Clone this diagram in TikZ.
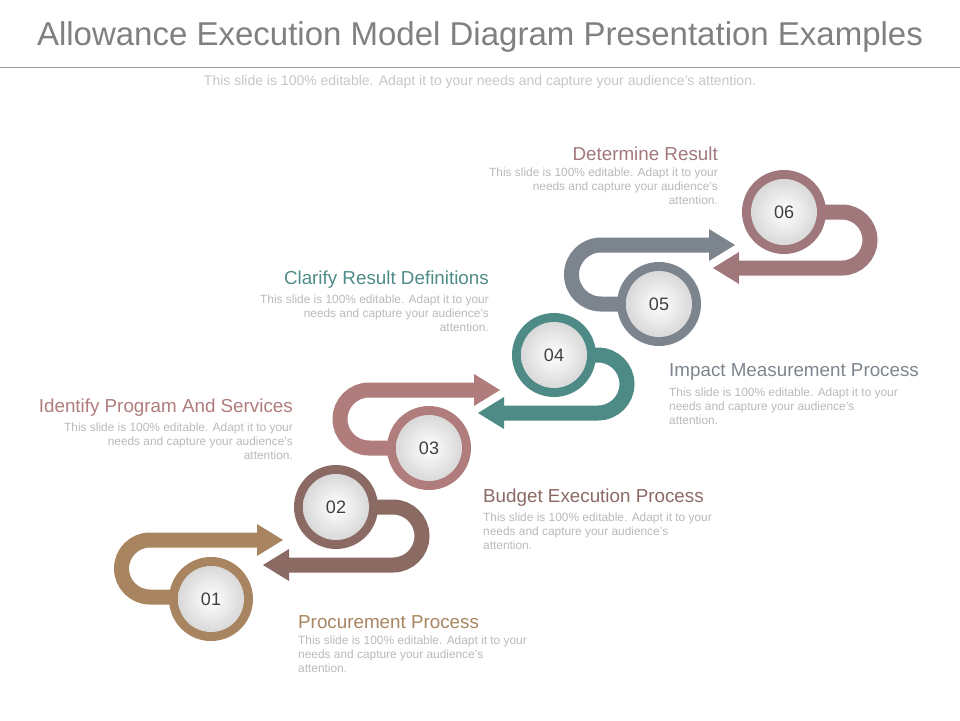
\documentclass[tikz,border=0pt]{standalone}
\usepackage{fontspec}
\setmainfont{Liberation Sans}
\begin{document}
\begin{tikzpicture}[x=1pt,y=-1pt,
  band/.style={line width=15pt},
  hd/.style={font=\fontsize{18.8}{20}\selectfont,inner sep=0pt},
  bd/.style={font=\fontsize{11.9}{14}\selectfont,text=gray!55,inner sep=0pt,align=#1},
  num/.style={font=\fontsize{18}{20}\selectfont,text=black!75}]
\definecolor{c1}{HTML}{A88560}\definecolor{c2}{HTML}{8B6A64}
\definecolor{c3}{HTML}{B07C7C}\definecolor{c4}{HTML}{4E8B87}
\definecolor{c5}{HTML}{7C858E}\definecolor{c6}{HTML}{A0787C}
\useasboundingbox (0,0) rectangle (960,720);
\node[font=\fontsize{33}{35}\selectfont,text=gray] (title) at (480,37) {Allowance Execution Model Diagram Presentation Examples};
\draw[gray!80,line width=1pt] (0,67) -- (960,67);
\node[font=\fontsize{14}{16}\selectfont,text=gray!45] (sub) at (480,82) {This slide is 100\% editable. Adapt it to your needs and capture your audience's attention.};
\draw[band,c1] (211,597) -- (150,597) arc[start angle=90,end angle=270,radius=28.5] -- (257,540);
\fill[c1] (257,524) -- (283,540) -- (257,556) -- cycle;
\draw[band,c2] (336,507) -- (393,507) arc[start angle=-90,end angle=90,radius=29] -- (289,565);
\fill[c2] (289,549) -- (263,565) -- (289,581) -- cycle;
\draw[band,c3] (429,448) -- (369,448) arc[start angle=90,end angle=270,radius=29] -- (474,390);
\fill[c3] (474,374) -- (500,390) -- (474,406) -- cycle;
\draw[band,c4] (554,355) -- (598,355) arc[start angle=-90,end angle=90,radius=29] -- (504,413);
\fill[c4] (504,397) -- (478,413) -- (504,429) -- cycle;
\draw[band,c5] (659,304) -- (601,304) arc[start angle=90,end angle=270,radius=29.5] -- (709,245);
\fill[c5] (709,229) -- (735,245) -- (709,261) -- cycle;
\draw[band,c6] (784,212) -- (842,212) arc[start angle=-90,end angle=90,radius=28] -- (739,268);
\fill[c6] (739,252) -- (713,268) -- (739,284) -- cycle;
\foreach \n/\x/\y/\c in {01/211/599/c1,02/336/507/c2,03/429/448/c3,04/554/355/c4,05/659/304/c5,06/784/212/c6}{
  \fill[\c] (\x,\y) circle[radius=42];
  \shade[inner color=white,outer color=gray!30] (\x,\y) circle[radius=33];
  \node[num] (n\n) at (\x,\y) {\n};
}
\node[hd,text=c6,anchor=east] (h6) at (718,154) {Determine Result};
\node[bd=right,anchor=north east] (b6) at (718,168) {This slide is 100\% editable. Adapt it to your\\needs and capture your audience's\\attention.};
\node[hd,text=c4,anchor=east] (h4) at (489,280) {Clarify Result Definitions};
\node[bd=right,anchor=north east] (b4) at (489,295) {This slide is 100\% editable. Adapt it to your\\needs and capture your audience's\\attention.};
\node[hd,text=c3,anchor=east] (h2) at (293,408) {Identify Program And Services};
\node[bd=right,anchor=north east] (b2) at (293,423) {This slide is 100\% editable. Adapt it to your\\needs and capture your audience's\\attention.};
\node[hd,text=c5,anchor=west] (h5) at (669,372) {Impact Measurement Process};
\node[bd=left,anchor=north west] (b5) at (669,388) {This slide is 100\% editable. Adapt it to your\\needs and capture your audience's\\attention.};
\node[hd,text=c2,anchor=west] (h3) at (483,498) {Budget Execution Process};
\node[bd=left,anchor=north west] (b3) at (483,513) {This slide is 100\% editable. Adapt it to your\\needs and capture your audience's\\attention.};
\node[hd,text=c1,anchor=west] (h1) at (298,622) {Procurement Process};
\node[bd=left,anchor=north west] (b1) at (298,636) {This slide is 100\% editable. Adapt it to your\\needs and capture your audience's\\attention.};
\end{tikzpicture}
\end{document}
